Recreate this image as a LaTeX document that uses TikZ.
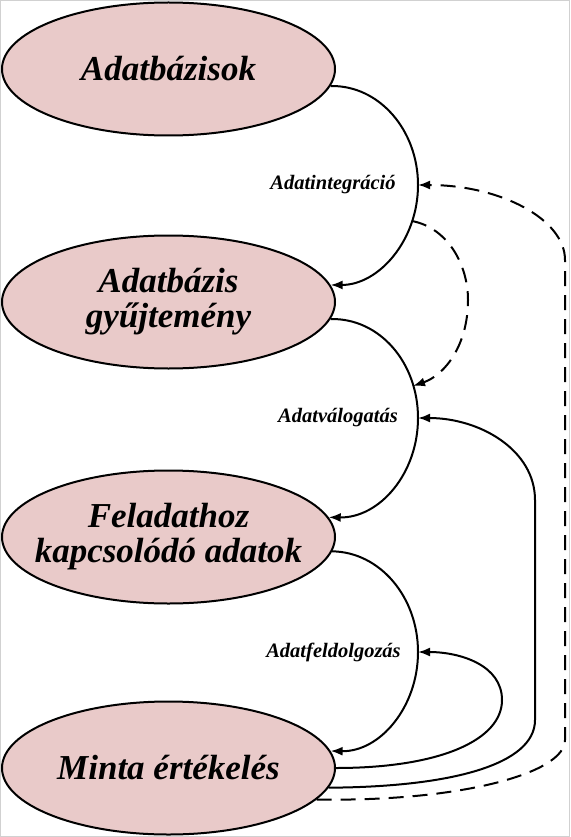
\documentclass[tikz,border=0pt]{standalone}
\usepackage{fontspec}
\setmainfont{Liberation Serif}
\usetikzlibrary{shapes.geometric,arrows.meta}
\definecolor{pinkfill}{RGB}{233,202,201}
\begin{document}
\begin{tikzpicture}[x=1pt,y=-1pt,
  stage/.style={ellipse, draw=black, line width=2pt, fill=pinkfill,
    minimum width=333pt, minimum height=133pt, inner sep=0pt, inner xsep=-25pt, align=center,
    font=\fontsize{35}{35}\selectfont\bfseries\itshape},
  lbl/.style={font=\fontsize{20.5}{22}\selectfont\bfseries\itshape, inner sep=0pt},
  flow/.style={line width=2pt, -{Latex[length=12pt,width=9pt]}},
  dflow/.style={flow, dash pattern=on 15pt off 9pt}]
\useasboundingbox (0,0) rectangle (570,837);
\draw[black!18, line width=1pt] (0.5,0.5) rectangle (569.5,836.5);

\node[stage] (e1) at (168.5,69) {Adatbázisok};
\node[stage] (e2) at (168.5,302) {Adatbázis\\gyűjtemény};
\node[stage] (e3) at (168.5,537) {Feladathoz\\kapcsolódó adatok};
\node[stage] (e4) at (168.5,768) {Minta értékelés};

\coordinate (c1) at (418,185);
\coordinate (c2) at (418,418);
\coordinate (c3) at (418,652);
\coordinate (d1) at (412,221);
\coordinate (d2) at (413,386);

\node[lbl] (l1) at (333,185) {Adatintegráció};
\node[lbl] (l2) at (338,418) {Adatválogatás};
\node[lbl] (l3) at (333.5,652) {Adatfeldolgozás};

\draw[flow] (e1.-6) .. controls (379,85) and (418,130) .. (c1)
  .. controls (418,240) and (379,285) .. (e2.6);
\draw[flow] (e2.-6) .. controls (380,318) and (418,363) .. (c2)
  .. controls (418,473) and (380,518) .. (e3.7);
\draw[flow] (e3.-5) .. controls (380,552) and (418,597) .. (c3)
  .. controls (418,707) and (380,752) .. (e4.6);
\draw[dflow] (d1) .. controls (448,228) and (468,265) .. (468,300)
  .. controls (468,345) and (445,375) .. (d2);
\draw[flow] (e4.east) .. controls (440,768) and (502,740) .. (502,700)
  .. controls (502,665) and (460,652) .. (c3);
\draw[flow] (e4.-7) .. controls (450,787) and (535,765) .. (535,720)
  -- (535,500) .. controls (535,450) and (480,418) .. (c2);
\draw[dflow] (e4.-12) .. controls (457,802) and (565,774) .. (565,740)
  -- (565,260) .. controls (565,219) and (500,185) .. (c1);
\end{tikzpicture}
\end{document}
